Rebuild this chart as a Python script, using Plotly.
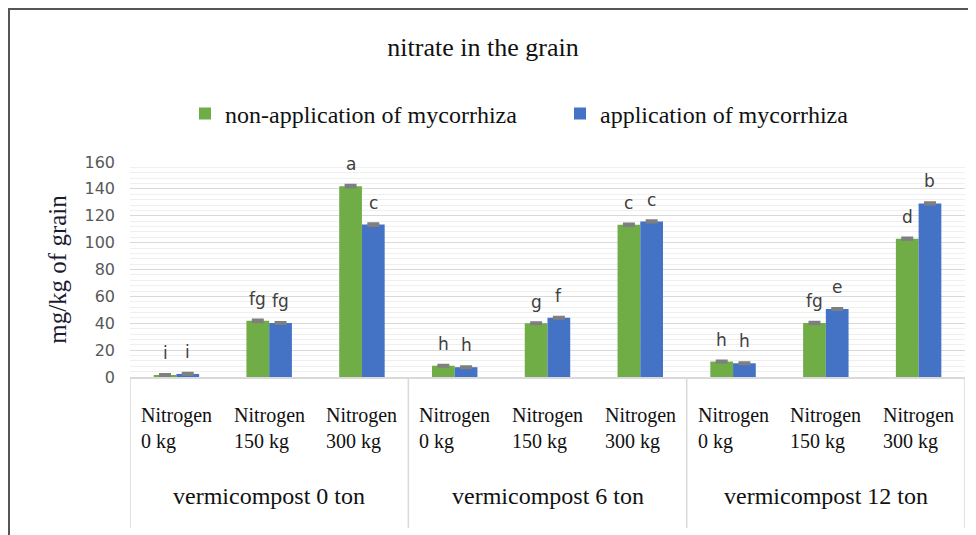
import plotly.graph_objects as go

groups = ["vermicompost 0 ton", "vermicompost 6 ton", "vermicompost 12 ton"]
nitrogen = ["Nitrogen<br>0 kg", "Nitrogen<br>150 kg", "Nitrogen<br>300 kg"]
series_names = ["non-application of mycorrhiza", "application of mycorrhiza"]

non_myc = [1.5, 41.8, 142.0, 8.4, 40.0, 113.3, 11.5, 40.2, 102.9]
myc = [2.3, 40.2, 113.4, 7.3, 44.1, 115.8, 10.2, 50.6, 129.2]
non_myc_err = [0.6, 0.8, 0.8, 0.5, 0.5, 0.8, 0.6, 0.7, 0.7]
myc_err = [0.6, 0.6, 0.8, 0.6, 0.6, 0.6, 0.6, 0.6, 0.7]
non_myc_letters = ["i", "fg", "a", "h", "g", "c", "h", "fg", "d"]
myc_letters = ["i", "fg", "c", "h", "f", "c", "h", "e", "b"]

cats = [f"{g}|{n}" for g in groups for n in nitrogen]
sub_labels = [n for g in groups for n in nitrogen]

GREEN = "#70AD47"
BLUE = "#4472C4"
SERIF = "Liberation Serif"
SANS = "DejaVu Sans"
BARGAP = 0.51
half = (1 - BARGAP) / 4

fig = go.Figure()
for name, vals, errs, color in [
    (series_names[0], non_myc, non_myc_err, GREEN),
    (series_names[1], myc, myc_err, BLUE),
]:
    fig.add_trace(go.Bar(
        x=cats, y=vals, name=name, marker=dict(color=color, line=dict(width=0)),
        error_y=dict(type="data", array=errs, visible=True, color="#7f7f7f",
                     thickness=2.5, width=6),
    ))

annotations = []
for vals, errs, letters, sgn in [
    (non_myc, non_myc_err, non_myc_letters, -1),
    (myc, myc_err, myc_letters, 1),
]:
    for i, (v, e, t) in enumerate(zip(vals, errs, letters)):
        annotations.append(dict(
            x=i + sgn * half, y=v + e, xref="x", yref="y", text=t, showarrow=False,
            yanchor="bottom", yshift=9, font=dict(family=SANS, size=17, color="#404040"),
        ))
for i, lab in enumerate(sub_labels):
    annotations.append(dict(
        x=i, y=0, xref="x", yref="paper", text=lab, showarrow=False,
        xanchor="center", yanchor="top", yshift=-25, align="left",
        font=dict(family=SERIF, size=20, color="#111111"),
    ))
for gi, g in enumerate(groups):
    annotations.append(dict(
        x=gi * 3 + 1, y=0, xref="x", yref="paper", text=g, showarrow=False,
        xanchor="center", yanchor="middle", yshift=-119,
        font=dict(family=SERIF, size=24, color="#111111"),
    ))

L, R, T, B = 122, 19, 154, 166
PW, PH = 976 - L - R, 535 - T - B

shapes = []
for b in [-0.5, 2.5, 5.5, 8.5]:
    shapes.append(dict(type="line", xref="x", yref="paper", x0=b, x1=b,
                       y0=0, y1=-151 / PH, line=dict(color="#d9d9d9", width=1.5)))
shapes.append(dict(type="rect", xref="paper", yref="paper",
                   x0=(1 - L) / PW, x1=(1000 - L) / PW,
                   y0=-200 / PH, y1=(PH + T - 1) / PH,
                   line=dict(color="#555555", width=2)))

fig.update_layout(
    width=976, height=535,
    margin=dict(l=L, r=R, t=T, b=B),
    paper_bgcolor="white", plot_bgcolor="white",
    barmode="group", bargap=BARGAP, bargroupgap=0,
    title=dict(text="nitrate in the grain", x=475 / 976, xref="container",
               xanchor="center", y=1 - 39 / 535, yanchor="middle",
               font=dict(family=SERIF, size=26, color="#111111")),
    legend=dict(orientation="h", x=(177 - L) / PW, xanchor="left",
                y=(PH + T - 106) / PH, yanchor="middle", entrywidth=330,
                yref="paper", font=dict(family=SERIF, size=24, color="#111111"),
                traceorder="normal", bgcolor="rgba(0,0,0,0)", itemsizing="constant"),
    xaxis=dict(type="category", categoryorder="array", categoryarray=cats,
               showticklabels=False, showgrid=False, showline=True,
               linecolor="#d9d9d9", linewidth=1.5, ticks="", range=[-0.5, 8.5]),
    yaxis=dict(range=[0, 160], dtick=20, showgrid=True, gridcolor="#d9d9d9",
               gridwidth=1, zeroline=False, showline=False, ticks="",
               ticklabelstandoff=14,
               tickfont=dict(family=SANS, size=16, color="#595959"),
               minor=dict(dtick=4, showgrid=True, gridcolor="#efefef", gridwidth=1),
               title=dict(text="mg/kg of grain", standoff=10,
                          font=dict(family=SERIF, size=25, color="#1b1b33"))),
    annotations=annotations, shapes=shapes,
)

fig.write_html("out.html")
